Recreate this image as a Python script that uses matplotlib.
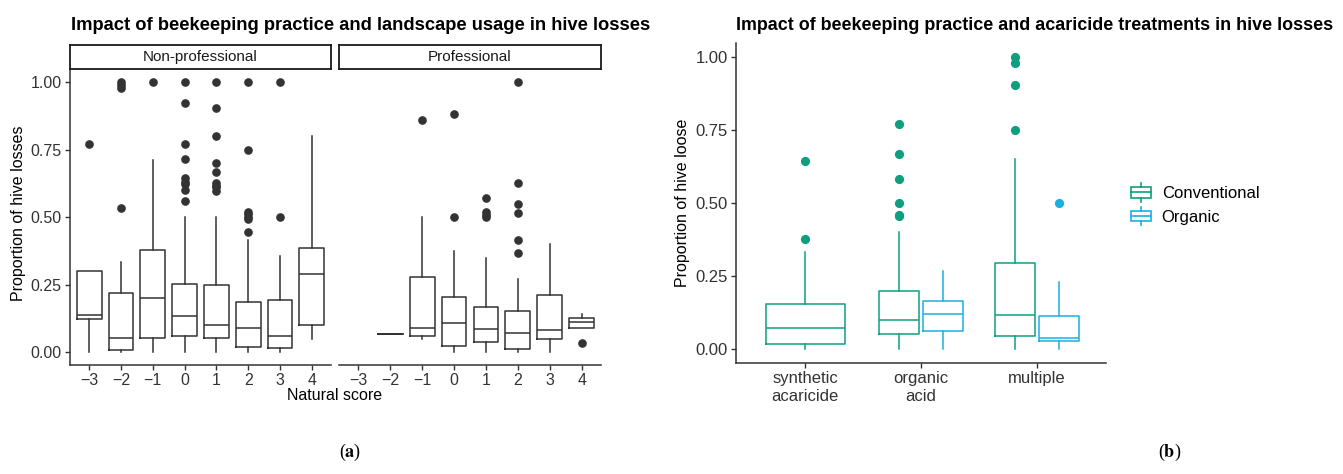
import matplotlib
matplotlib.use('Agg')
import matplotlib.pyplot as plt
from matplotlib.legend_handler import HandlerBase
from matplotlib.lines import Line2D
from matplotlib.patches import Rectangle

plt.rcParams['font.family'] = ['Liberation Sans', 'DejaVu Sans']
plt.rcParams['mathtext.fontset'] = 'stix'

# ---- panel (a): natural score, per beekeeper type ----
scores = [-3, -2, -1, 0, 1, 2, 3, 4]

nonpro_q1 = [0.123, 0.009, 0.054, 0.059, 0.052, 0.020, 0.015, 0.100]
nonpro_med = [0.138, 0.052, 0.201, 0.133, 0.101, 0.091, 0.062, 0.290]
nonpro_q3 = [0.302, 0.218, 0.380, 0.252, 0.250, 0.185, 0.193, 0.387]
nonpro_lo = [0.0, 0.0, 0.0, 0.0, 0.0, 0.0, 0.0, 0.048]
nonpro_hi = [0.302, 0.333, 0.713, 0.500, 0.500, 0.415, 0.355, 0.800]
nonpro_out = [[0.77],
              [1.0, 0.99, 0.98, 0.533],
              [1.0],
              [1.0, 0.922, 0.77, 0.715, 0.644, 0.631, 0.622, 0.60, 0.56],
              [1.0, 0.905, 0.80, 0.70, 0.667, 0.627, 0.617, 0.611, 0.599],
              [1.0, 0.75, 0.521, 0.511, 0.502, 0.494, 0.446],
              [1.0, 0.50],
              []]

pro_scores = [-2, -1, 0, 1, 2, 3, 4]
pro_q1 = [0.068, 0.062, 0.025, 0.037, 0.012, 0.049, 0.089]
pro_med = [0.068, 0.091, 0.110, 0.087, 0.071, 0.083, 0.113]
pro_q3 = [0.068, 0.280, 0.206, 0.168, 0.153, 0.211, 0.128]
pro_lo = [0.068, 0.048, 0.0, 0.0, 0.0, 0.0, 0.089]
pro_hi = [0.068, 0.500, 0.374, 0.349, 0.271, 0.400, 0.143]
pro_out = [[], [0.859], [0.881, 0.50], [0.573, 0.52, 0.51, 0.50],
           [1.0, 0.626, 0.55, 0.517, 0.415, 0.367], [], [0.033]]

# ---- panel (b): acaricide treatment, per practice ----
treatments = ['synthetic\nacaricide', 'organic\nacid', 'multiple']
conv_q1 = [0.018, 0.051, 0.043]
conv_med = [0.071, 0.100, 0.115]
conv_q3 = [0.154, 0.200, 0.295]
conv_lo = [0.0, 0.0, 0.0]
conv_hi = [0.331, 0.400, 0.650]
conv_out = [[0.643, 0.375], [0.77, 0.667, 0.583, 0.50, 0.46, 0.455],
            [1.0, 0.98, 0.905, 0.75]]

org_treatments = ['organic\nacid', 'multiple']
org_q1 = [0.060, 0.028]
org_med = [0.121, 0.037]
org_q3 = [0.163, 0.113]
org_lo = [0.0, 0.0]
org_hi = [0.267, 0.228]
org_out = [[], [0.50]]

CONV = '#0E9F7E'
ORG = '#1BB0E0'
DARK = '#333333'

W, H = 1343, 474


def stats(q1, med, q3, lo, hi, out):
    return [dict(q1=a, med=b, q3=c, whislo=d, whishi=e, fliers=f)
            for a, b, c, d, e, f in zip(q1, med, q3, lo, hi, out)]


def draw(ax, st, pos, width, color, ms=5.2):
    lp = dict(color=color, linewidth=1.1)
    ax.bxp(st, positions=pos, widths=width, showcaps=False,
           boxprops=lp, whiskerprops=lp, medianprops=lp,
           flierprops=dict(marker='o', markerfacecolor=color,
                           markeredgecolor=color, markersize=ms),
           manage_ticks=False)


def rect(x0, y0, x1, y1):
    return [x0 / W, 1 - y1 / H, (x1 - x0) / W, (y1 - y0) / H]


def style(ax):
    for s in ['top', 'right']:
        ax.spines[s].set_visible(False)
    for s in ['left', 'bottom']:
        ax.spines[s].set_color(DARK)
        ax.spines[s].set_linewidth(1.1)
    ax.tick_params(length=3.5, width=1, color=DARK, labelcolor='#333333',
                   labelsize=11.5, pad=2.5)


fig = plt.figure(figsize=(W / 100, H / 100), dpi=100)

yticks = [0, 0.25, 0.5, 0.75, 1.0]
ylabels = ['0.00', '0.25', '0.50', '0.75', '1.00']
xlab = [str(s).replace('-', '\u2212') for s in scores]

ax1 = fig.add_axes(rect(70, 69, 331, 365))
ax2 = fig.add_axes(rect(339, 69, 601, 365))
draw(ax1, stats(nonpro_q1, nonpro_med, nonpro_q3, nonpro_lo, nonpro_hi, nonpro_out),
     scores, 0.78, DARK)
draw(ax2, stats(pro_q1, pro_med, pro_q3, pro_lo, pro_hi, pro_out),
     pro_scores, 0.78, DARK)
for ax in (ax1, ax2):
    style(ax)
    ax.set_xlim(-3.6, 4.6)
    ax.set_ylim(-0.047, 1.049)
    ax.set_xticks(scores)
    ax.set_xticklabels(xlab)
    ax.set_yticks(yticks)
ax1.set_yticklabels(ylabels)
ax2.spines['left'].set_visible(False)
ax2.tick_params(axis='y', length=0, labelleft=False)

for (x0, x1), name in zip([(70, 331), (339, 601)], ['Non-professional', 'Professional']):
    sa = fig.add_axes(rect(x0, 45, x1, 69))
    sa.set_xticks([])
    sa.set_yticks([])
    for s in sa.spines.values():
        s.set_linewidth(1.3)
        s.set_color('#1a1a1a')
    sa.text(0.5, 0.5, name, ha='center', va='center', fontsize=11,
            color='#1a1a1a', transform=sa.transAxes)

fig.text(71 / W, 1 - 30 / H,
         'Impact of beekeeping practice and landscape usage in hive losses',
         fontsize=13.2, fontweight='bold', va='baseline', ha='left')
fig.text(19 / W, 1 - 213 / H, 'Proportion of hive losses', rotation=90,
         ha='center', va='center', fontsize=11.5)
fig.text(335 / W, 1 - 395 / H, 'Natural score', ha='center', va='center',
         fontsize=11.5)

# ---- panel (b) ----
ax3 = fig.add_axes(rect(736, 43, 1106, 363))
style(ax3)
dodge = 0.19
bw = 0.345
conv_pos = [i - dodge if t in org_treatments else i for i, t in enumerate(treatments)]
conv_w = [bw if t in org_treatments else 0.683 for t in treatments]
org_pos = [treatments.index(t) + dodge for t in org_treatments]
draw(ax3, stats(conv_q1, conv_med, conv_q3, conv_lo, conv_hi, conv_out),
     conv_pos, conv_w, CONV, ms=5.6)
draw(ax3, stats(org_q1, org_med, org_q3, org_lo, org_hi, org_out),
     org_pos, bw, ORG, ms=5.6)
ax3.set_xlim(-0.6, 2.6)
ax3.set_ylim(-0.048, 1.048)
ax3.set_xticks(range(len(treatments)))
ax3.set_xticklabels(treatments, fontsize=12, linespacing=1.25)
ax3.set_yticks(yticks)
ax3.set_yticklabels(ylabels, fontsize=12)

fig.text(736 / W, 1 - 30 / H,
         'Impact of beekeeping practice and acaricide treatments in hive losses',
         fontsize=12.9, fontweight='bold', va='baseline', ha='left')
fig.text(683 / W, 1 - 203 / H, 'Proportion of hive loose', rotation=90,
         ha='center', va='center', fontsize=11.5)


class BoxKey(HandlerBase):
    def create_artists(self, legend, orig_handle, xdescent, ydescent,
                       width, height, fontsize, trans):
        c = orig_handle.get_color()
        x0, y0 = -xdescent, -ydescent
        cx = x0 + width / 2
        box = Rectangle((x0 + 0.05 * width, y0 + 0.22 * height),
                        0.9 * width, 0.56 * height, facecolor='none',
                        edgecolor=c, linewidth=1.2, transform=trans)
        med = Line2D([x0 + 0.05 * width, x0 + 0.95 * width],
                     [y0 + 0.5 * height] * 2, color=c, lw=1.2, transform=trans)
        w1 = Line2D([cx, cx], [y0, y0 + 0.22 * height], color=c, lw=1.2,
                    transform=trans)
        w2 = Line2D([cx, cx], [y0 + 0.78 * height, y0 + height], color=c,
                    lw=1.2, transform=trans)
        return [box, med, w1, w2]


handles = [Line2D([], [], color=CONV), Line2D([], [], color=ORG)]
fig.legend(handles, ['Conventional', 'Organic'], loc='upper left',
           bbox_to_anchor=(1130 / W, 1 - 183 / H), frameon=False,
           fontsize=12, borderpad=0, borderaxespad=0, handlelength=1.3,
           handleheight=1.35, labelspacing=0.3, handletextpad=0.6,
           handler_map={Line2D: BoxKey()})

fig.text(350 / W, 1 - 452 / H, r'($\mathbf{a}$)', ha='center', va='center',
         fontsize=13, family='Liberation Serif')
fig.text(1170 / W, 1 - 452 / H, r'($\mathbf{b}$)', ha='center', va='center',
         fontsize=13, family='Liberation Serif')

fig.savefig('out.png', dpi=100)
